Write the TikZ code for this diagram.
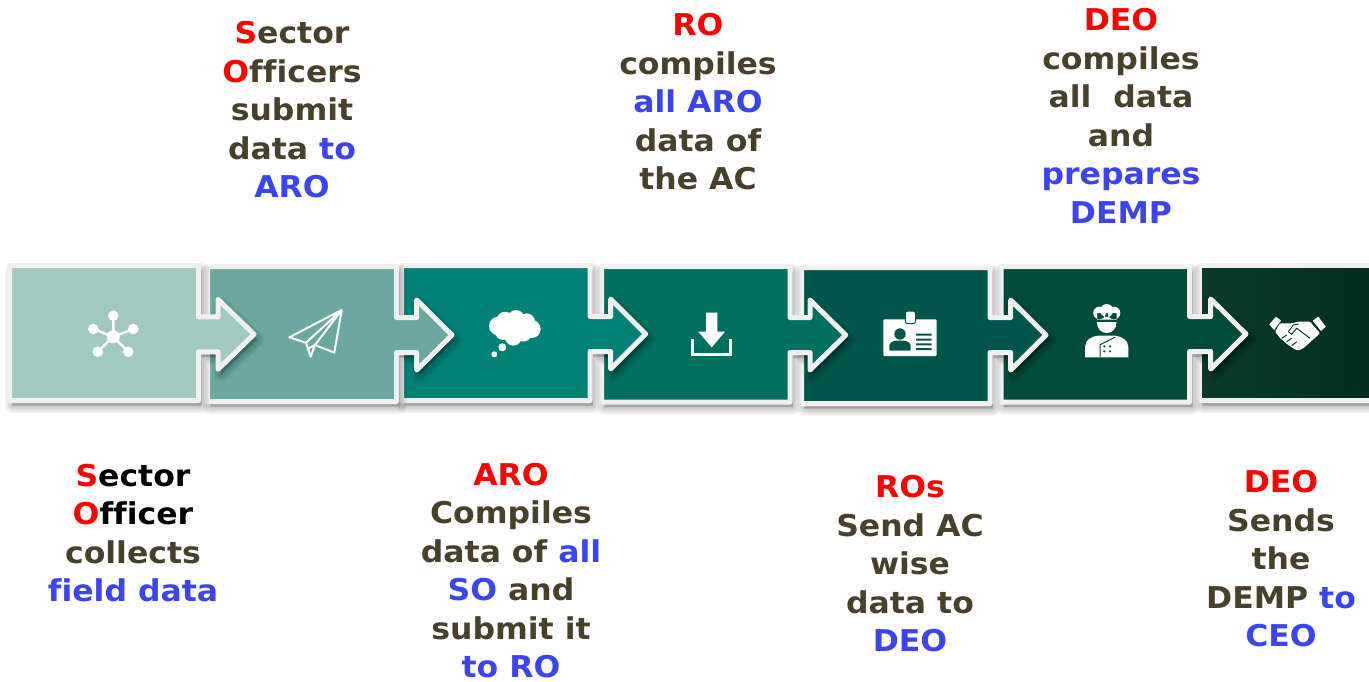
\documentclass[tikz,border=0pt]{standalone}
\usepackage{fontspec}
\setmainfont{DejaVu Sans}[BoldFont={DejaVu Sans Bold},BoldFeatures={FakeStretch=1.05},Ligatures=NoCommon]
\definecolor{olivetxt}{HTML}{47412B}
\definecolor{bluetxt}{HTML}{3B44EE}
\definecolor{redtxt}{HTML}{FF0000}
\definecolor{edgec}{HTML}{F0F0F0}
\definecolor{c1}{HTML}{A0C9C3}
\definecolor{c2}{HTML}{6AA8A0}
\definecolor{c3}{HTML}{008176}
\definecolor{c4}{HTML}{036F5E}
\definecolor{c5}{HTML}{00564A}
\definecolor{c6}{HTML}{024A3B}
\definecolor{c7a}{HTML}{0A3A2A}
\definecolor{c7b}{HTML}{022D1F}
\newcommand{\R}[1]{\textcolor{redtxt}{#1}}
\newcommand{\B}[1]{\textcolor{bluetxt}{#1}}
\newcommand{\K}[1]{\textcolor{black}{#1}}
% L R T B notch tip tipy fillstyle
\newcommand{\stepshape}[8]{%
  \def\stepP{(#1,#3) -- (#2,#3) -- (#2,#7-17.5) -- (#5,#7-17.5) -- (#5,#7-35) -- (#6,#7) -- (#5,#7+35) -- (#5,#7+17.5) -- (#2,#7+17.5) -- (#2,#4) -- (#1,#4) -- cycle}%
  \foreach \w in {15,12,9,6,3}{\draw[shift={(3,5)},black,opacity=.045,line width=\w pt,line join=round,fill] \stepP;}%
  \draw[edgec,line width=5pt,line join=round,#8] \stepP;%
}
\tikzset{
  lbl/.style={font=\fontsize{30}{38.5}\selectfont\bfseries,text=olivetxt,align=center,inner sep=0pt},
  icoline/.style={draw=white,fill=none,line width=2pt,line join=round,line cap=round}
}
\begin{document}
\begin{tikzpicture}[x=1pt,y=-1pt]
\useasboundingbox (0,0) rectangle (1369,681);
\fill[white] (0,0) rectangle (1369,681);
\stepshape{1199.5}{1380}{265.5}{400.5}{1380}{1380}{334}{left color=c7a,right color=c7b}
\stepshape{1001}{1189.5}{266.5}{402}{1210.7}{1246}{334}{fill=c6}
\stepshape{801.5}{990}{267.5}{403.5}{1010.7}{1046}{335}{fill=c5}
\stepshape{601.5}{790}{266.5}{402}{810}{845.7}{335}{fill=c4}
\stepshape{401.5}{590}{265.5}{400.5}{610.7}{645.7}{334}{fill=c3}
\stepshape{207.5}{396.5}{266.5}{401.5}{416.7}{452}{335}{fill=c2}
\stepshape{9.5}{198.5}{265.5}{400.5}{218}{254}{334.3}{fill=c1}

% icon 1: hub
\draw[icoline,line width=2.4pt] (113.3,336.7) -- (113.3,315.7) (113.3,336.7) -- (93.3,329) (113.3,336.7) -- (133.3,329) (113.3,336.7) -- (97.7,351.7) (113.3,336.7) -- (128.3,351.7);
\fill[white] (113.3,336.7) circle (6.5) (113.3,315.7) circle (5.3) (93.3,329) circle (5.3) (133.3,329) circle (5.3) (97.7,351.7) circle (5.3) (128.3,351.7) circle (5.3);
% icon 2: plane
\draw[icoline] (341.7,310) -- (289.3,337.3) -- (306,342.7) -- (341.7,310) -- (334.3,352.7) -- (315,345) -- (341.7,310)
  (306,342.7) -- (310.7,356.7) -- (315,345) (309,348) -- (315,345);
% icon 3: cloud
\fill[white] (515,327) circle (13) (498.3,326) circle (9.3) (505,320) circle (8.3) (516,318.3) circle (8.3) (526.7,321.7) circle (8.3) (531.7,329) circle (9) (523.3,333.3) circle (8.3) (513.3,337.3) circle (8.3) (503.3,331.7) circle (8.3) (502.3,347.3) circle (4) (494.3,354.3) circle (3);
% icon 4: download
\fill[white] (706,312.7) -- (717.3,312.7) -- (717.3,331.7) -- (725,331.7) -- (711.7,347.3) -- (698.3,331.7) -- (706,331.7) -- cycle;
\draw[white,line width=3pt,line join=miter] (692.3,339.3) -- (692.3,354) -- (730.7,354) -- (730.7,339.3);
% icon 5: id card
\fill[white,rounded corners=1pt] (883.3,319.3) rectangle (936.7,356);
\draw[fill=white,draw=c5,line width=1pt,rounded corners=2pt] (905.3,311.2) rectangle (915.5,323.5);
\begin{scope}[c5]
\fill (900,334) circle (5.7);
\fill (889.3,350.7) -- (889.3,345) .. controls (891,340.5) and (896,340.5) .. (900,340.5) .. controls (904,340.5) and (909,340.5) .. (910.7,345) -- (910.7,350.7) -- cycle;
\fill (916,333.5) rectangle (931.7,335.5) (916,338.5) rectangle (931.7,340.5) (916,343.3) rectangle (931.7,345.3) (916,348) rectangle (931.7,350);
\end{scope}
% icon 6: chef
\fill[white] (1106.7,310.5) circle (6.5) (1099.5,313) circle (6.3) (1114,313) circle (6.3) (1097,313) rectangle (1116.5,319.7);
\fill[white] (1096.9,322.2) -- (1116.5,322.2) .. controls (1116.5,329) and (1112,333) .. (1106.7,333) .. controls (1101.4,333) and (1096.9,329) .. (1096.9,322.2) -- cycle;
\fill[white] (1085,357.3) -- (1085,347) .. controls (1085,340) and (1091,336.5) .. (1098,335.7) -- (1115,335.7) .. controls (1122,336.5) and (1128.3,340) .. (1128.3,347) -- (1128.3,357.3) -- cycle;
\draw[c6,line width=1pt] (1100,357.3) -- (1100,344.7) -- (1115,337.3);
\fill[c6] (1104.3,346.3) circle (1.2) (1110,346.3) circle (1.2) (1104.3,351.3) circle (1.2) (1110,351.3) circle (1.2);
% icon 7: handshake
\fill[white] (1269.3,324.3) -- (1276,316.7) -- (1281,320.7) -- (1274,330) -- cycle;
\fill[white] (1312.7,320.7) -- (1318.3,316.7) -- (1325.7,326.7) -- (1321,331) -- cycle;
\fill[white,rounded corners=1pt] (1280,323.3) -- (1291.7,323.3) -- (1298.3,321.7) -- (1310,321.7) -- (1320,333.3) -- (1303.3,348.3) -- (1298.3,350.5) -- (1294,349) -- (1287,344) -- (1280,338) -- (1275,331.7) -- cycle;
\draw[c7a,line width=1pt] (1288.3,331.7) -- (1293.3,325) -- (1298.5,324) (1288.3,331.7) -- (1291.7,334.3) -- (1296.7,328.3) -- (1310,338.3);
\draw[c7a,line width=1pt] (1281.7,338.3) -- (1286.7,335) (1286.7,341.7) -- (1291.7,338.3) (1291.7,345.7) -- (1296.7,341.7);

\node[lbl] (t1) at (292,110) {\R{S}ector\\\R{O}fficers\\submit\\data \B{to}\\\B{ARO}};
\node[lbl] (t2) at (698,102) {\R{RO}\\compiles\\\B{all ARO}\\data of\\the AC};
\node[lbl] (t3) at (1121,116) {\R{DEO}\\compiles\\all\ \ data\\and\\\B{prepares}\\\B{DEMP}};
\node[lbl] (b1) at (133,533) {\R{S}\K{ector}\\\R{O}\K{fficer}\\collects\\\B{field data}};
\node[lbl] (b2) at (511,570.5) {\R{ARO}\\Compiles\\data of \B{all}\\\B{SO} and\\submit it\\\B{to RO}};
\node[lbl] (b3) at (910,564) {\R{ROs}\\Send AC\\wise\\data to\\\B{DEO}};
\node[lbl] (b4) at (1281,559) {\R{DEO}\\Sends\\the\\DEMP \B{to}\\\B{CEO}};
\end{tikzpicture}
\end{document}
